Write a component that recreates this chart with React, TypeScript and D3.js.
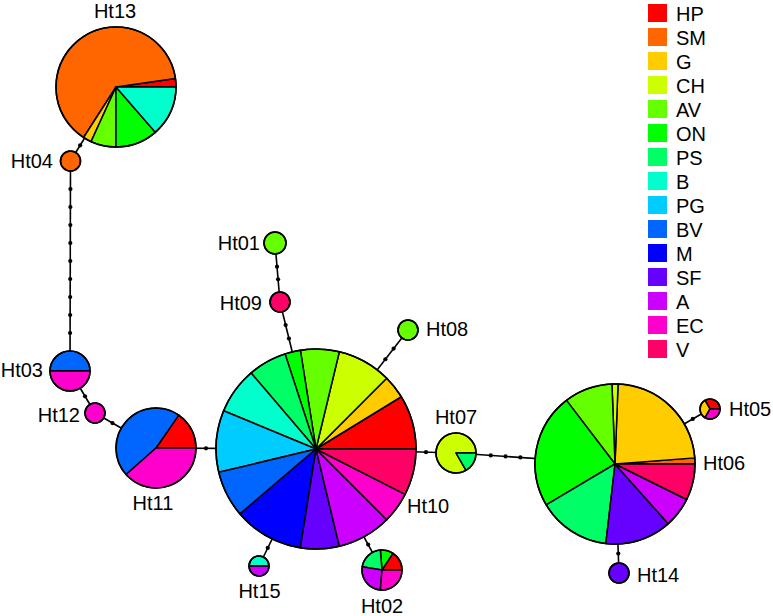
import React from "react";
import * as d3 from "d3";

// ---------- data ----------
const populations = ["HP", "SM", "G", "CH", "AV", "ON", "PS", "B", "PG", "BV", "M", "SF", "A", "EC", "V"];
const popColors = [
  "#FF0000", "#FF6600", "#FFCC00", "#CCFF00", "#66FF00", "#00FF00", "#00FF66", "#00FFCC",
  "#00CCFF", "#0066FF", "#0000FF", "#6600FF", "#CC00FF", "#FF00CC", "#FF0066",
];

const haplotypes = ["Ht01", "Ht02", "Ht03", "Ht04", "Ht05", "Ht06", "Ht07", "Ht08", "Ht09", "Ht10", "Ht11", "Ht12", "Ht13", "Ht14", "Ht15"];
const haploSizes = [1.1, 2, 2, 1, 1, 8, 2, 1, 1, 10, 4, 1, 6, 1, 1];

// counts per population, in the order of `populations`
//                 HP SM  G CH AV ON PS  B PG BV  M SF  A EC  V
const haploFreqs = [
  /* Ht01 */ [0, 0, 0, 0, 1, 0, 0, 0, 0, 0, 0, 0, 0, 0, 0],
  /* Ht02 */ [3, 0, 0, 0, 0, 2, 4, 0, 0, 0, 0, 0, 5, 5, 0],
  /* Ht03 */ [0, 0, 0, 0, 0, 0, 0, 0, 0, 1, 0, 0, 0, 1, 0],
  /* Ht04 */ [0, 1, 0, 0, 0, 0, 0, 0, 0, 0, 0, 0, 0, 0, 0],
  /* Ht05 */ [1, 0, 1, 0, 0, 0, 0, 0, 0, 0, 0, 0, 0, 1, 0],
  /* Ht06 */ [0, 1, 19, 1, 8, 19, 12, 0, 0, 0, 0, 11, 5, 0, 6],
  /* Ht07 */ [0, 0, 0, 5, 0, 0, 1, 0, 0, 0, 0, 0, 0, 0, 0],
  /* Ht08 */ [0, 0, 0, 0, 1, 0, 0, 0, 0, 0, 0, 0, 0, 0, 0],
  /* Ht09 */ [0, 0, 0, 0, 0, 0, 0, 0, 0, 0, 0, 0, 0, 0, 1],
  /* Ht10 */ [7, 0, 3, 7, 5, 2, 5, 6, 8, 6, 9, 5, 7, 4, 6],
  /* Ht11 */ [2, 0, 0, 0, 0, 0, 0, 0, 0, 6, 0, 0, 0, 5, 0],
  /* Ht12 */ [0, 0, 0, 0, 0, 0, 0, 0, 0, 0, 0, 0, 0, 1, 0],
  /* Ht13 */ [1, 28, 1, 0, 3, 5, 0, 6, 0, 0, 0, 0, 0, 0, 0],
  /* Ht14 */ [0, 0, 0, 0, 0, 0, 0, 0, 0, 0, 0, 1, 0, 0, 0],
  /* Ht15 */ [0, 0, 0, 0, 0, 0, 0, 1, 0, 0, 0, 0, 1, 0, 0],
];

// network links and the number of mutational steps on each
const linkFrom = ["Ht13", "Ht04", "Ht03", "Ht12", "Ht11", "Ht10", "Ht09", "Ht10", "Ht10", "Ht07", "Ht06", "Ht06", "Ht10", "Ht10"];
const linkTo = ["Ht04", "Ht03", "Ht12", "Ht11", "Ht10", "Ht09", "Ht01", "Ht08", "Ht07", "Ht06", "Ht05", "Ht14", "Ht15", "Ht02"];
const linkSteps = [1, 9, 1, 1, 1, 2, 2, 2, 1, 3, 1, 1, 1, 1];

// ---------- layout (positions of nodes and labels) ----------
const layoutX = [275, 382, 70, 70.5, 710, 615, 456, 408, 280, 316, 156, 95, 116, 619, 259];
const layoutY = [243, 570, 371, 161, 409, 464, 453, 330, 302, 449, 448, 413, 87, 573, 566];
const labelX = [260, 382, 43, 53, 729, 703, 456, 426, 262, 407, 153, 80, 115, 637, 259.5];
const labelY = [250, 613, 377, 168, 416, 470, 424, 336, 310, 513, 510, 422, 18, 582, 598];
const labelAnchor = ["end", "middle", "end", "end", "start", "start", "middle", "start", "end", "start", "middle", "end", "middle", "start", "middle"];

const W = 773;
const H = 616;
const FONT = "'Liberation Sans', Arial, Helvetica, sans-serif";
const FS = 20;

export default function App() {
  const rScale = d3.scaleLinear().domain([0, 10]).range([0, 100]);
  const idx = (id: string) => haplotypes.indexOf(id);

  const pie = d3
    .pie<{ v: number; c: string }>()
    .sort(null)
    .value((d) => d.v)
    .startAngle(Math.PI / 2)
    .endAngle(Math.PI / 2 - 2 * Math.PI);

  const legendY = d3.scaleBand<string>().domain(populations).range([4, 4 + 24 * populations.length]).paddingInner(0);

  const links = linkFrom.map((f, i) => {
    const a = idx(f);
    const b = idx(linkTo[i]);
    const x1 = layoutX[a], y1 = layoutY[a], x2 = layoutX[b], y2 = layoutY[b];
    const dx = x2 - x1, dy = y2 - y1;
    const dist = Math.hypot(dx, dy);
    const ux = dx / dist, uy = dy / dist;
    const r1 = rScale(haploSizes[a]);
    const r2 = rScale(haploSizes[b]);
    const seg = dist - r1 - r2;
    const n = linkSteps[i];
    const dots = d3.range(1, n + 1).map((k) => {
      const t = r1 + (seg * k) / (n + 1);
      return [x1 + ux * t, y1 + uy * t];
    });
    return { x1, y1, x2, y2, dots };
  });

  return (
    <svg width={W} height={H} style={{ position: "absolute", left: 0, top: 0, background: "#fff" }} fontFamily={FONT}>
      <rect width={W} height={H} fill="#fff" />
      <g>
        {links.map((l, i) => (
          <g key={i}>
            <line x1={l.x1} y1={l.y1} x2={l.x2} y2={l.y2} stroke="#000" strokeWidth={1.6} />
            {l.dots.map((d, j) => (
              <circle key={j} cx={d[0]} cy={d[1]} r={2.1} fill="#000" />
            ))}
          </g>
        ))}
      </g>
      <g>
        {haplotypes.map((h, i) => {
          const r = rScale(haploSizes[i]);
          const data = haploFreqs[i]
            .map((v, k) => ({ v, c: popColors[k] }))
            .filter((d) => d.v > 0);
          const arc = d3.arc<d3.PieArcDatum<{ v: number; c: string }>>().innerRadius(0).outerRadius(r);
          const arcs = pie(data);
          return (
            <g key={h} transform={`translate(${layoutX[i]},${layoutY[i]})`}>
              {arcs.map((a, k) => (
                <path key={k} d={arc(a) || ""} fill={a.data.c} stroke="#000" strokeWidth={1.5} strokeLinejoin="round" />
              ))}
              <circle r={r} fill="none" stroke="#000" strokeWidth={1.6} />
            </g>
          );
        })}
      </g>
      <g fontSize={FS} fill="#000">
        {haplotypes.map((h, i) => (
          <text key={h} x={labelX[i]} y={labelY[i]} textAnchor={labelAnchor[i] as any}>
            {h}
          </text>
        ))}
      </g>
      <g>
        {populations.map((p, i) => (
          <g key={p} transform={`translate(648,${legendY(p)})`}>
            <rect width={19} height={18} fill={popColors[i]} />
            <text x={28} y={16.5} fontSize={FS} fill="#000">
              {p}
            </text>
          </g>
        ))}
      </g>
    </svg>
  );
}
